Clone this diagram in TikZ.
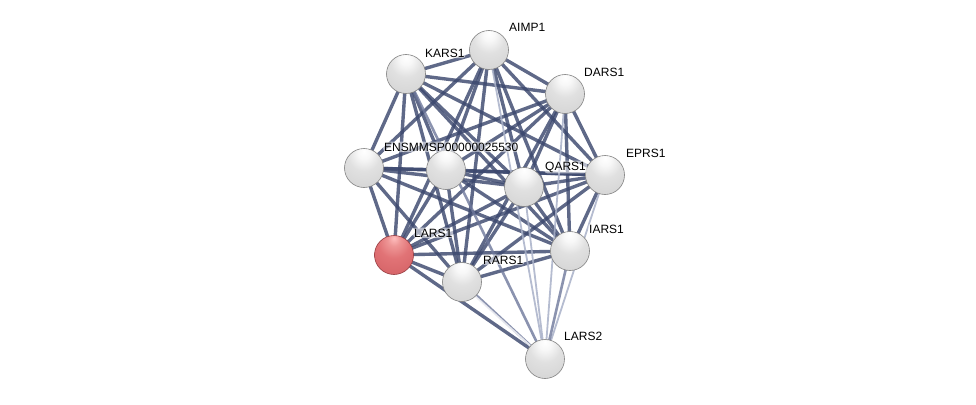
\documentclass[tikz,border=0pt]{standalone}
\usepackage{fontspec}
\setmainfont{Liberation Sans}
\usetikzlibrary{calc}
\definecolor{edgedark}{RGB}{60,72,110}
\definecolor{edgemid}{RGB}{110,120,155}
\definecolor{edgelight}{RGB}{168,176,200}
\definecolor{nodeborder}{RGB}{130,130,130}
\pgfdeclareradialshading{greyball}{\pgfpoint{0bp}{22bp}}{%
  color(0bp)=(white); color(8bp)=(white!97!black); color(20bp)=(white!88!black);
  color(40bp)=(white!83!black); color(58bp)=(white!76!black); color(66bp)=(white!66!black); color(72bp)=(white!60!black)}
\pgfdeclareradialshading{redball}{\pgfpoint{0bp}{22bp}}{%
  color(0bp)=(white!75!red); color(8bp)=({rgb,255:red,238;green,150;blue,150}); color(20bp)=({rgb,255:red,225;green,115;blue,118});
  color(40bp)=({rgb,255:red,212;green,98;blue,102}); color(58bp)=({rgb,255:red,195;green,80;blue,85}); color(66bp)=({rgb,255:red,170;green,60;blue,65}); color(72bp)=({rgb,255:red,150;green,50;blue,55})}
\tikzset{
  prot/.style={circle, minimum size=39pt, inner sep=0pt, draw=nodeborder, line width=0.6pt, shading=greyball},
  protred/.style={prot, shading=redball, draw={rgb,255:red,150;green,60;blue,65}},
  lbl/.style={anchor=base west, inner sep=1pt, font=\fontsize{12}{14}\selectfont, text=black,
              fill=white, fill opacity=0.55, text opacity=1, rounded corners=3pt},
  strong/.style={draw=edgedark, line width=3.4pt, opacity=0.82},
  medium/.style={draw=edgemid, line width=2.6pt, opacity=0.8},
  weak/.style={draw=edgelight, line width=1.8pt, opacity=0.85},
  faint/.style={draw=white!80!edgelight, line width=1.8pt, opacity=0.9},
}
\begin{document}
\begin{tikzpicture}[x=1pt,y=-1pt]
\useasboundingbox (0,0) rectangle (976,404);
% node coordinates
\coordinate (cA) at (489,50);
\coordinate (cK) at (406,74);
\coordinate (cD) at (565,94);
\coordinate (cE) at (364,168);
\coordinate (cM) at (446,170);
\coordinate (cQ) at (524,187);
\coordinate (cP) at (605,175);
\coordinate (cL) at (394,255);
\coordinate (cR) at (462,282);
\coordinate (cI) at (570,251);
\coordinate (cL2) at (545,359);
\coordinate (cR2) at (466,288);
% edges among the main complex
\foreach \a/\b in {A/K,A/D,A/E,A/M,A/Q,A/P,A/L,A/R,A/I,
                   K/D,K/E,K/M,K/Q,K/P,K/L,K/R,K/I,
                   D/E,D/M,D/Q,D/P,D/L,D/R,D/I,
                   E/M,E/Q,E/P,E/L,E/R,E/I,
                   M/Q,M/P,M/L,M/R,M/I,
                   Q/P,Q/L,Q/R,Q/I,
                   P/L,P/R,P/I,
                   L/R,L/I,R/I}
  {\draw[strong] (c\a) -- (c\b);}
% edges to LARS2
\draw[strong] (cL) -- (cL2);
\draw[medium] (cR) -- (cL2);
\draw[faint] (cR2) -- (cL2);
\draw[medium] (cK) -- (cL2);
\draw[weak] (cA) -- (cL2);
\draw[weak] (cQ) -- (cL2);
\draw[weak] (cD) -- (cL2);
\draw[weak] (cP) -- (cL2);
\draw[medium] (cI) -- (cL2);
% nodes
\node[prot] (A) at (cA) {};
\node[prot] (K) at (cK) {};
\node[prot] (D) at (cD) {};
\node[prot] (E) at (cE) {};
\node[prot] (M) at (cM) {};
\node[prot] (Q) at (cQ) {};
\node[prot] (P) at (cP) {};
\node[protred] (L) at (cL) {};
\node[prot] (R) at (cR) {};
\node[prot] (I) at (cI) {};
\node[prot] (L2) at (cL2) {};
% labels
\node[lbl] (tA) at (508,32) {AIMP1};
\node[lbl] (tK) at (424,57) {KARS1};
\node[lbl] (tD) at (583,77) {DARS1};
\node[lbl] (tE) at (383,151) {ENSMMSP00000025530};
\node[lbl] (tQ) at (544,170) {QARS1};
\node[lbl] (tP) at (625,157) {EPRS1};
\node[lbl] (tL) at (413,237) {LARS1};
\node[lbl] (tR) at (482,264) {RARS1};
\node[lbl] (tI) at (588,233) {IARS1};
\node[lbl] (tL2) at (563,340) {LARS2};
\end{tikzpicture}
\end{document}
